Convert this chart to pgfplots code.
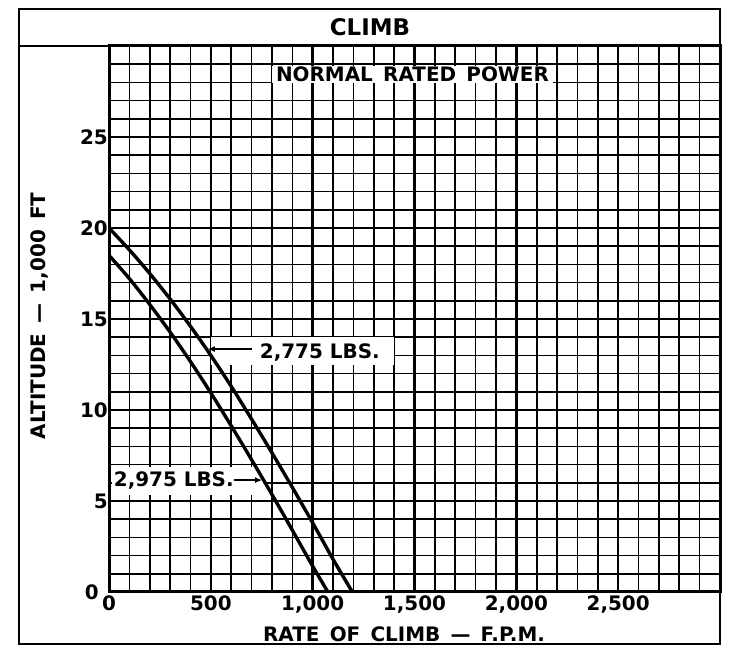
\documentclass[border=0pt]{standalone}
\usepackage{pgfplots}
\pgfplotsset{compat=1.18}
\usepackage{fontspec}
\setmainfont{DejaVu Sans}
\usetikzlibrary{arrows.meta}

\newcommand{\lbl}{\fontsize{20}{22}\selectfont\bfseries}

\begin{document}
\begin{tikzpicture}
\path[use as bounding box] (0bp,0bp) rectangle (730bp,654bp);

% outer frame and title row
\draw[line width=2.8bp] (19bp,10bp) rectangle (720bp,645bp);
\draw[line width=2.8bp] (19bp,608bp) -- (720bp,608bp);
\node[font=\fontsize{23}{25}\selectfont\bfseries] at (370bp,627bp) {CLIMB};

\begin{axis}[
  at={(109bp,62bp)}, anchor=south west,
  width=611bp, height=546bp,
  scale only axis,
  xmin=0, xmax=3000,
  ymin=0, ymax=30,
  xtick={0,500,...,2500},
  xticklabels={0,500,{1,000},{1,500},{2,000},{2,500}},
  ytick={0,5,...,25},
  yticklabels={{0\rule{9bp}{0pt}},5,10,15,20,25},
  minor xtick={0,100,...,3000},
  minor ytick={0,1,...,30},
  grid=both,
  major grid style={black, line width=2.6bp},
  minor grid style={black, line width=1.6bp},
  axis line style={black, line width=3bp},
  major tick length=0pt,
  minor tick length=0pt,
  tick label style={font=\lbl},
  xticklabel style={inner sep=2bp, yshift=-2bp},
  yticklabel style={inner sep=1bp},
]

% white patches behind the labels
\fill[white] (axis cs:15,5.35) rectangle (axis cs:770,6.85);
\fill[white] (axis cs:500,12.45) rectangle (axis cs:1400,14.0);

% 2,775 lbs
\addplot[black, line width=3.4bp, line cap=round, smooth] coordinates {
  (0,20) (100,18.8) (200,17.5) (300,16.1) (400,14.6) (500,13.0)
  (600,11.3) (700,9.5) (800,7.65) (900,5.75) (1000,3.8) (1100,1.8) (1195,0)
};
% 2,975 lbs
\addplot[black, line width=3.4bp, line cap=round, smooth] coordinates {
  (0,18.5) (100,17.22) (200,15.8) (300,14.28) (400,12.66) (500,10.94)
  (600,9.13) (700,7.27) (800,5.36) (900,3.4) (1000,1.42) (1075,0)
};

\node[font=\lbl, fill=white, inner xsep=4bp, inner ysep=1bp] at (axis cs:1490,28.45) {NORMAL \,RATED \,POWER};

\node[font=\lbl] at (axis cs:1035,13.15) {2,775 LBS.};
\draw[-{Latex[length=7bp,width=6bp]}, line width=2bp] (axis cs:700,13.35) -- (axis cs:485,13.35);

\node[font=\lbl] at (axis cs:318,6.1) {2,975 LBS.};
\draw[-{Latex[length=7bp,width=6bp]}, line width=2bp] (axis cs:615,6.15) -- (axis cs:752,6.15);
\end{axis}

% axis titles
\node[font=\lbl] at (404bp,20bp) {RATE \,OF \,CLIMB \,—\, F.P.M.};
\node[font=\lbl, rotate=90] at (40bp,338bp) {ALTITUDE \,—\, 1,000 \,FT};
\end{tikzpicture}
\end{document}
